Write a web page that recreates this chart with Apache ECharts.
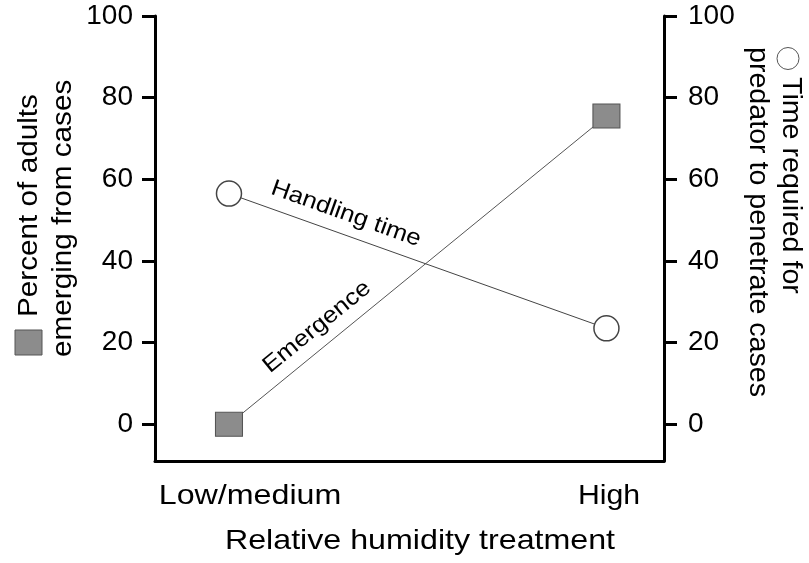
<!DOCTYPE html>
<html>
<head>
<meta charset="utf-8">
<script src="https://cdn.jsdelivr.net/npm/echarts@6/dist/echarts.min.js"></script>
<style>
html,body{margin:0;padding:0;background:#fff;}
#chart{width:809px;height:563px;}
</style>
</head>
<body>
<div id="chart"></div>
<script>
// ---- data ----
const categories = ['Low/medium', 'High'];
const catX = [0, 1];
const emergence = [0, 75.5];        // Percent of adults emerging from cases (left axis)
const handlingTime = [56.5, 23.5];  // Time required for predator to penetrate cases (right axis)
const yTicks = [0, 20, 40, 60, 80, 100];
const xTitle = 'Relative humidity treatment';
const leftTitle = ['Percent of adults', 'emerging from cases'];
const rightTitle = ['Time required for', 'predator to penetrate cases'];
const seriesNames = ['Emergence', 'Handling time'];

const FONT = '"Liberation Sans", Arial, sans-serif';
function txt(text, x, y, size, opts) {
  opts = opts || {};
  return {
    type: 'text', x: x, y: y,
    rotation: opts.rotation || 0,
    scaleX: opts.scaleX || 1, scaleY: 1,
    silent: true,
    style: {
      text: text, fill: '#000',
      font: size + 'px ' + FONT,
      fontSize: size, fontFamily: FONT,
      align: opts.align || 'center', verticalAlign: 'middle',
      textAlign: opts.align || 'center', textVerticalAlign: 'middle'
    }
  };
}

const chart = echarts.init(document.getElementById('chart'), null, {renderer: 'canvas'});
const axisCommon = {
  type: 'value', min: -9, max: 100,
  splitLine: {show: false},
  axisLine: {show: true, onZero: false, lineStyle: {color: '#000', width: 3}},
  axisTick: {show: true, inside: false, length: 13, lineStyle: {color: '#000', width: 3}, customValues: yTicks},
};
chart.setOption({
  animation: false,
  backgroundColor: '#fff',
  grid: {left: 155, right: 145, top: 16, bottom: 102, containLabel: false},
  xAxis: {
    type: 'value', min: -0.196, max: 1.1525,
    splitLine: {show: false},
    axisLine: {show: true, onZero: false, lineStyle: {color: '#000', width: 3}},
    axisTick: {show: false}, axisLabel: {show: false}
  },
  yAxis: [
    Object.assign({}, axisCommon, {
      position: 'left',
      axisLabel: {show: true, customValues: yTicks, margin: 22, color: '#000', fontSize: 28, fontFamily: FONT}
    }),
    Object.assign({}, axisCommon, {
      position: 'right',
      axisLabel: {show: true, customValues: yTicks, margin: 24, color: '#000', fontSize: 28, fontFamily: FONT}
    })
  ],
  series: [
    {
      name: seriesNames[0], type: 'line', yAxisIndex: 0,
      data: catX.map((x, i) => [x, emergence[i]]),
      symbol: 'rect', symbolSize: [27, 24],
      lineStyle: {color: '#555', width: 1},
      itemStyle: {color: '#8c8c8c', borderColor: '#555', borderWidth: 1},
      z: 3
    },
    {
      name: seriesNames[1], type: 'line', yAxisIndex: 1,
      data: catX.map((x, i) => [x, handlingTime[i]]),
      symbol: 'circle', symbolSize: 25,
      lineStyle: {color: '#444', width: 1},
      itemStyle: {color: '#fff', borderColor: '#444', borderWidth: 1.5},
      z: 3
    }
  ],
  graphic: [
    // category labels
    txt(categories[0], 250, 496, 28, {scaleX: 1.15}),
    txt(categories[1], 609, 496, 28, {scaleX: 1.08}),
    // x title
    txt(xTitle, 420, 541, 28, {scaleX: 1.15}),
    // line annotations
    txt(seriesNames[1], 346, 214, 23, {rotation: -0.342, scaleX: 1.12}),
    txt(seriesNames[0], 317, 327, 23, {rotation: 0.684, scaleX: 1.12}),
    // left title with square key
    {type: 'rect', silent: true, shape: {x: 15, y: 330, width: 27, height: 25},
     style: {fill: '#8c8c8c', stroke: '#555', lineWidth: 1}},
    txt(leftTitle[0], 30, 317, 27, {rotation: Math.PI / 2, align: 'left', scaleX: 1.1}),
    txt(leftTitle[1], 64, 357, 27, {rotation: Math.PI / 2, align: 'left', scaleX: 1.1}),
    // right title with circle key
    {type: 'circle', silent: true, shape: {cx: 788, cy: 58.5, r: 11},
     style: {fill: '#fff', stroke: '#555', lineWidth: 1}},
    txt(rightTitle[0], 790, 77, 27, {rotation: -Math.PI / 2, align: 'left', scaleX: 1.06}),
    txt(rightTitle[1], 757, 47, 27, {rotation: -Math.PI / 2, align: 'left', scaleX: 1.06})
  ]
});
</script>
</body>
</html>
